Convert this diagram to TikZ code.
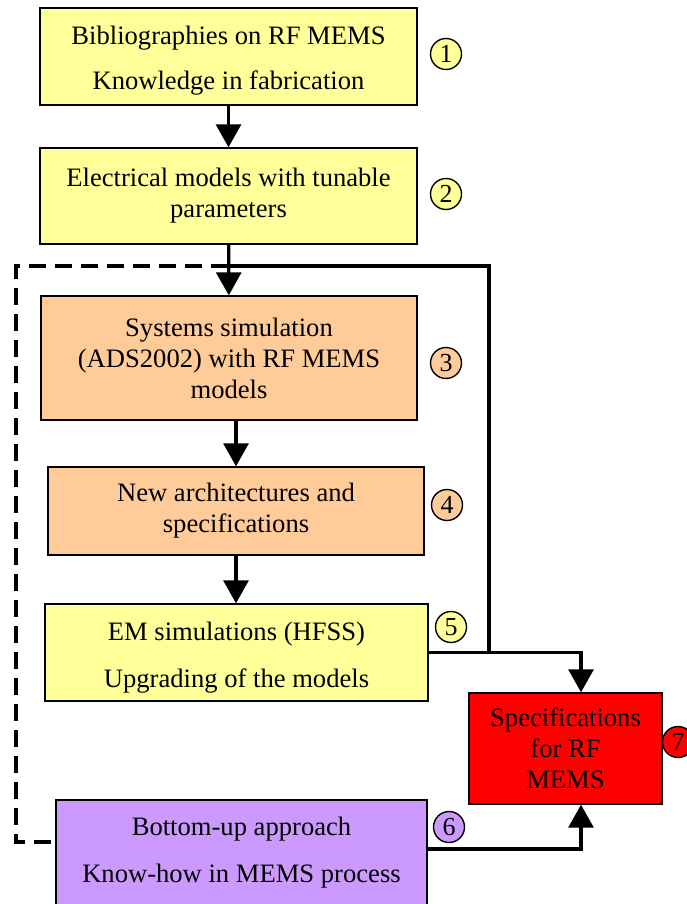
\documentclass[tikz,border=0pt]{standalone}
\usepackage{fontspec}
\setmainfont{Liberation Serif}
\usetikzlibrary{arrows.meta,positioning}
\definecolor{yb}{HTML}{FFFF99}
\definecolor{ob}{HTML}{FFCC99}
\definecolor{pb}{HTML}{CC99FF}
\definecolor{rb}{HTML}{FF0000}
\tikzset{
  ybox/.style={
    rectangle, draw=black, line width=1.4pt, fill=yb,
    font=\fontsize{26.6}{31}\selectfont,
    align=center, inner sep=2pt
  },
  obox/.style={ybox, fill=ob},
  pbox/.style={ybox, fill=pb},
  rbox/.style={ybox, fill=rb},
  num/.style={
    circle, draw=black, line width=1.4pt, fill=yb,
    minimum size=31pt, inner sep=0pt, font=\fontsize{26}{26}\selectfont
  },
  arr/.style={-{Triangle[length=23pt,width=25pt]}, line width=3.2pt, black},
  link/.style={line width=3.2pt, black},
  back/.style={link, dash pattern=on 17pt off 9pt}
}

\begin{document}
\begin{tikzpicture}[x=1pt, y=-1pt]

\useasboundingbox (0,0) rectangle (687,904);

\node[ybox, minimum width=377pt, minimum height=97pt] (bib) at (228.5,56.5)
  {\rule{0pt}{26pt}Bibliographies on RF MEMS\\[14pt]Knowledge in fabrication};

\node[ybox, minimum width=377pt, minimum height=96pt] (elec) at (228.5,196)
  {Electrical models with tunable\\parameters};

\node[obox, minimum width=376pt, minimum height=124pt] (sys) at (229,358)
  {Systems simulation\\(ADS2002) with RF MEMS\\models};

\node[obox, minimum width=376pt, minimum height=88pt] (arch) at (236,511)
  {New architectures and\\specifications};

\node[ybox, minimum width=383pt, minimum height=97pt] (em) at (236.5,652.5)
  {\rule{0pt}{28pt}EM simulations (HFSS)\\[16pt]Upgrading of the models};

\node[pbox, minimum width=371pt, minimum height=106pt] (bott) at (241.5,853)
  {Bottom-up approach\\[16pt]Know-how in MEMS process};

\node[rbox, minimum width=193pt, minimum height=111pt] (spec) at (565.5,748.5)
  {Specifications\\for RF\\MEMS};

% step numbers
\node[num] (n1) at (446,54) {1};
\node[num] (n2) at (446,194) {2};
\node[num, fill=ob] (n3) at (446,363) {3};
\node[num, fill=ob] (n4) at (447,505) {4};
\node[num] (n5) at (451,627) {5};
\node[num, fill=pb] (n6) at (449,827) {6};
\node[num, fill=rb] (n7) at (678,742) {7};

\coordinate (split) at (228,266);
\coordinate (rail) at (489,0);
\coordinate (lft) at (16,0);
\coordinate (bin) at ([yshift=11pt]bott.west);

\draw[arr] (bib) -- (elec);
\draw[arr] (elec) -- (sys);
\draw[arr] (sys.south -| arch.north) -- (arch.north);
\draw[arr] (arch.south) -- (arch.south |- em.north);

\draw[link] (split) -| (em.east -| rail);
\draw[back] (split) -| (lft |- bin) -- (bin);

\draw[arr] (em.east) -| ([xshift=15.5pt]spec.north);
\draw[arr] ([yshift=4pt]bott.east) -| ([xshift=15.5pt]spec.south);

\end{tikzpicture}
\end{document}
